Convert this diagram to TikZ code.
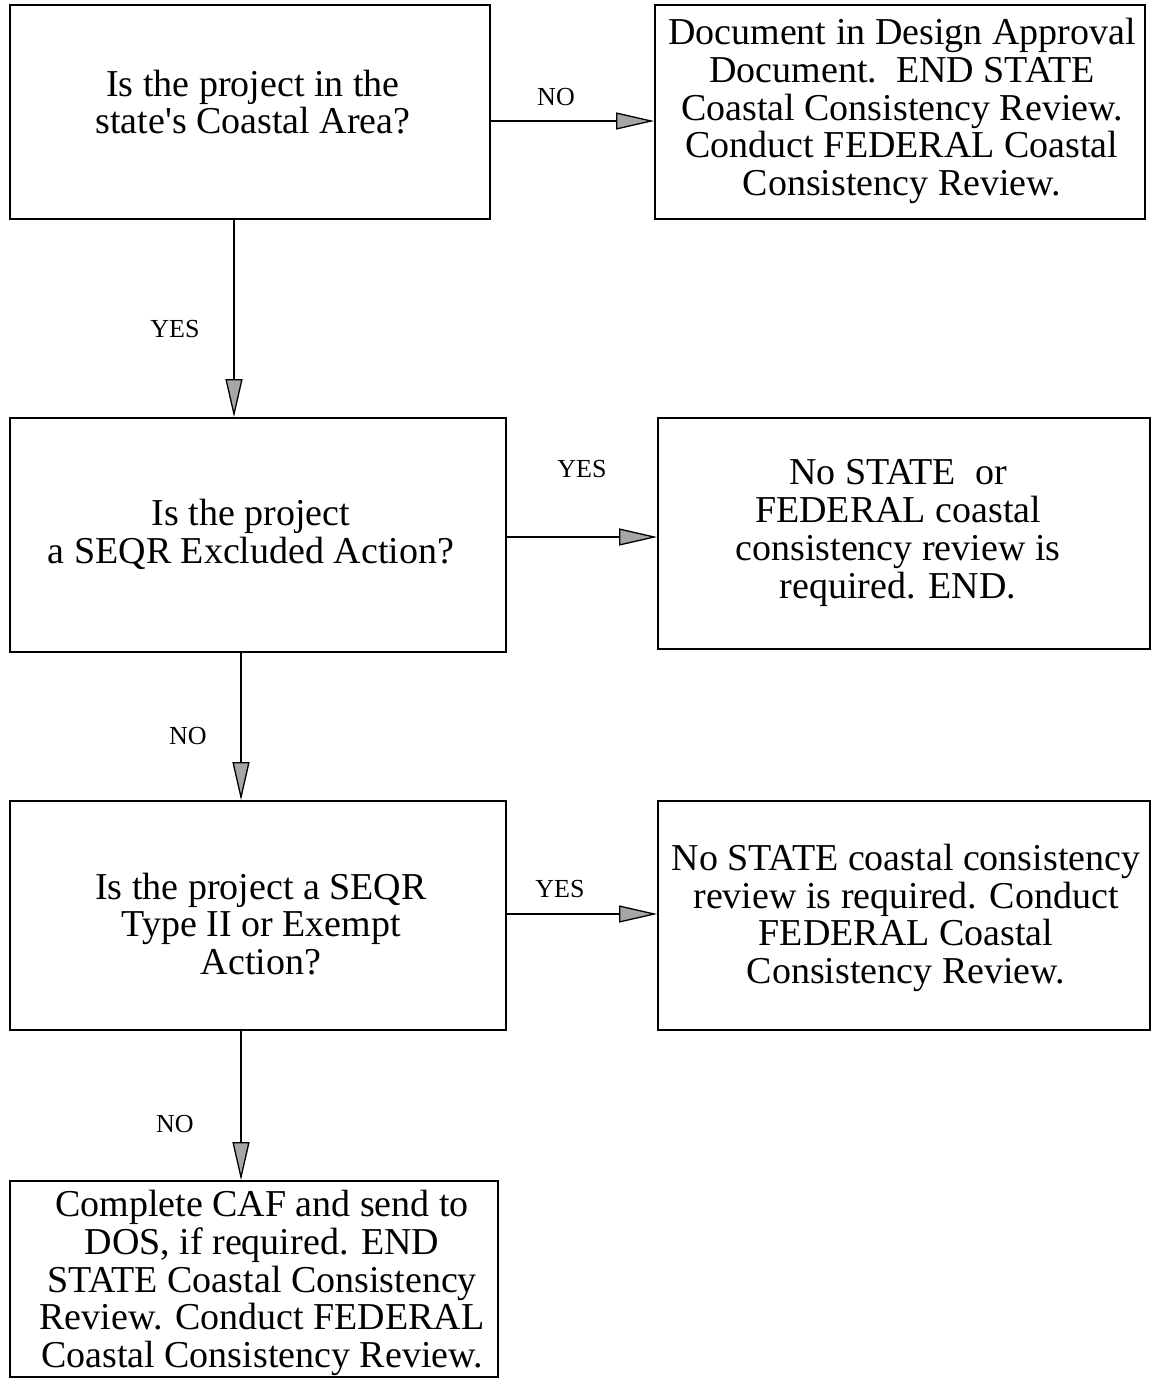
\documentclass[tikz,border=0pt]{standalone}
\usepackage{fontspec}
\setmainfont{Liberation Serif}
\usetikzlibrary{arrows.meta}
\newcommand\boxfont{\fontsize{38}{37.8}\selectfont}
\newcommand\lblfont{\fontsize{26}{28}\selectfont}
\begin{document}
\begin{tikzpicture}[x=1pt,y=-1pt,
  box/.style={draw, line width=1.8pt, rectangle, inner sep=0pt},
  txt/.style={align=center, font=\boxfont, inner sep=0pt},
  lbl/.style={font=\lblfont, inner sep=0pt},
  conn/.style={line width=1.7pt, -{Triangle[length=38pt,width=17pt,fill=gray!70,line width=1.3pt]}}]
\useasboundingbox (0,0) rectangle (1151,1379);
% boxes
\node[box, minimum width=480pt, minimum height=214pt] (b1) at (250,112) {};
\node[box, minimum width=490pt, minimum height=214pt] (b2) at (900,112) {};
\node[box, minimum width=496pt, minimum height=234pt] (b3) at (258,535) {};
\node[box, minimum width=492pt, minimum height=231pt] (b4) at (904,533.5) {};
\node[box, minimum width=496pt, minimum height=229pt] (b5) at (258,915.5) {};
\node[box, minimum width=492pt, minimum height=229pt] (b6) at (904,915.5) {};
\node[box, minimum width=488pt, minimum height=196pt] (b7) at (254,1279) {};
% texts
\node[txt] (t1) at (253,102) {Is the project in the\\state\textquotesingle s Coastal Area?};
\node[txt] (t2) at (902,111) {Document in Design Approval\\Document.\ \ END STATE\\Coastal Consistency Review.\\Conduct FEDERAL Coastal\\Consistency Review.};
\node[txt] (t3) at (251,534) {Is the project\\a SEQR Excluded Action?};
\node[txt] (t4) at (898,533) {No STATE\ \ or\\FEDERAL coastal\\consistency review is\\required. END.};
\node[txt] (t5) at (261,924) {Is the project a SEQR\\Type II or Exempt\\Action?};
\node[txt] (t6) at (906,918) {No STATE coastal consistency\\review is required. Conduct\\FEDERAL Coastal\\Consistency Review.};
\node[txt] (t7) at (262,1283) {Complete CAF and send to\\DOS, if required. END\\STATE Coastal Consistency\\Review. Conduct FEDERAL\\Coastal Consistency Review.};
% connectors
\draw[conn] (b1.east |- 0,121) -- (b2.west |- 0,121);
\draw[conn] (b1.south -| 234,0) -- (b3.north -| 234,0);
\draw[conn] (b3.east |- 0,537) -- (b4.west |- 0,537);
\draw[conn] (b3.south -| 241,0) -- (b5.north -| 241,0);
\draw[conn] (b5.east |- 0,914) -- (b6.west |- 0,914);
\draw[conn] (b5.south -| 241,0) -- (b7.north -| 241,0);
% labels
\node[lbl] (l1) at (556,97) {NO};
\node[lbl] (l2) at (175,329) {YES};
\node[lbl] (l3) at (582,469) {YES};
\node[lbl] (l4) at (188,736) {NO};
\node[lbl] (l5) at (560,889) {YES};
\node[lbl] (l6) at (175,1124) {NO};
\end{tikzpicture}
\end{document}
